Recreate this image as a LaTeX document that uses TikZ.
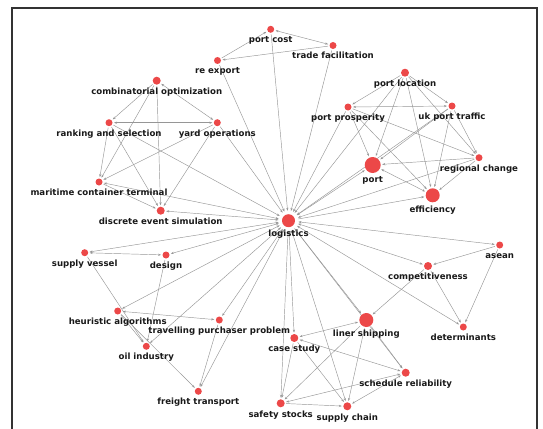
\documentclass[tikz,border=0pt]{standalone}
\usepackage{fontspec}
\setmainfont{DejaVu Sans}
\usetikzlibrary{arrows.meta, backgrounds}
\definecolor{dotred}{RGB}{236,72,72}
\definecolor{linkgray}{RGB}{150,150,150}
\definecolor{labelink}{RGB}{25,25,25}

\begin{document}
\begin{tikzpicture}[
		x=1pt, y=-1pt,
		every node/.style={circle, fill=dotred, inner sep=0pt, outer sep=1.5pt, minimum size=7pt},
		every label/.append style={rectangle, fill=none, text=labelink, minimum size=0pt,
			inner sep=0pt, outer sep=0pt, text height=6.5pt, text depth=2pt,
			font=\fontsize{8.6}{10}\selectfont\bfseries},
		label distance=1.8pt,
		midsize/.style={minimum size=8pt},
		gtip/.tip={Stealth[length=3pt, width=2.2pt]},
		every edge/.style={draw=linkgray, line width=0.45pt},
		one/.style={-gtip},
		both/.style={gtip-gtip}
	]
  \useasboundingbox (0,0) rectangle (543,428);
  \draw[line width=1.4pt, black!80] (12,440) |- (537,8) -- (537,440);

  \node (port_cost) [label=below:port cost] at (270.7,29.3) {};
  \node (trade_fac) [label=below:trade facilitation] at (333,45.5) {};
  \node (re_export) [label=below:re export] at (217.5,60.5) {};
  \node (comb_opt) [midsize, label=below:combinatorial optimization] at (156.7,80.7) {};
  \node (port_loc) [midsize, label=below:port location] at (405,72.7) {};
  \node (port_pros) [label=below:port prosperity] at (348,107) {};
  \node (uk_port) [label=below:uk port traffic] at (452,106) {};
  \node (ranking) [label=below:ranking and selection] at (109,122.7) {};
  \node (yard_ops) [label=below:yard operations] at (217.3,122.7) {};
  \node (port) [minimum size=16pt, label=below:port] at (372.7,165) {};
  \node (reg_change) [label=below:regional change] at (479,157.7) {};
  \node (maritime) [label=below:maritime container terminal] at (99,182) {};
  \node (efficiency) [minimum size=14pt, label=below:efficiency] at (432.7,195.3) {};
  \node (discrete) [midsize, label=below:discrete event simulation] at (160.7,210.7) {};
  \node (logistics) [minimum size=13pt, outer sep=3.5pt, label={[yshift=2.5pt]below:logistics}] at (288.5,220.7) {};
  \node (asean) [label=below:asean] at (499.7,245) {};
  \node (supply_vessel) [label=below:supply vessel] at (84.7,252.7) {};
  \node (design) [label=below:design] at (166,255) {};
  \node (competitive) [midsize, label=below:competitiveness] at (428,266) {};
  \node (heuristic) [label=below:heuristic algorithms] at (117.7,311) {};
  \node (travelling) [label=below:travelling purchaser problem] at (219.3,320) {};
  \node (liner) [minimum size=14pt, label=below:liner shipping] at (366.3,320) {};
  \node (determinants) [label=below:determinants] at (463.3,327) {};
  \node (case_study) [midsize, label=below:case study] at (294.3,338) {};
  \node (oil_ind) [label=below:oil industry] at (146.3,346.3) {};
  \node (sched_rel) [midsize, label=below:schedule reliability] at (405.7,372.7) {};
  \node (freight) [label=below:freight transport] at (198.3,391.3) {};
  \node (safety) [midsize, label=below:safety stocks] at (280.7,403.3) {};
  \node (supply_chain) [midsize, label=below:supply chain] at (347.3,406.3) {};

  \begin{scope}[on background layer]
    % top group
    \draw[one] (re_export) edge (port_cost) (trade_fac) edge (re_export);
    \draw[both] (port_cost) edge (trade_fac);
    \draw[one] (port_cost) edge (logistics) (trade_fac) edge (logistics) (re_export) edge (logistics);
    % left group
    \draw[one] (comb_opt) edge (ranking) edge (maritime) edge (discrete);
    \draw[both] (comb_opt) edge (yard_ops) (ranking) edge (yard_ops);
    \draw[one] (ranking) edge (maritime) edge (discrete) edge (logistics);
    \draw[one] (yard_ops) edge (maritime) edge (discrete) edge (logistics);
    \draw[one] (maritime) edge (discrete);
    \draw[both] (logistics) edge (maritime) edge (discrete);
    % right group
    \draw[one] (port_loc) edge (port_pros) edge (uk_port) edge (port) edge (efficiency) edge (reg_change) edge (logistics);
    \draw[both] (port_pros) edge (uk_port);
    \draw[one] (port_pros) edge (port) edge (efficiency) edge (reg_change) edge (logistics);
    \draw[one] (uk_port) edge (port) edge (efficiency) edge (reg_change) edge (logistics);
    \draw[one] (reg_change) edge (port) edge (efficiency) edge (logistics);
    \draw[both] (port) edge (logistics) edge (efficiency);
    \draw[one] (logistics) edge (efficiency);
    % lower right group
    \draw[both] (logistics) edge (asean) edge (competitive) edge (determinants) edge (liner);
    \draw[one] (asean) edge (competitive) edge (determinants);
    \draw[one] (competitive) edge (determinants) edge (liner);
    \draw[one] (logistics) edge (sched_rel) (liner) edge (sched_rel) edge (safety) edge (supply_chain);
    \draw[both] (liner) edge (case_study) (case_study) edge (sched_rel);
    \draw[one] (case_study) edge (safety) edge (supply_chain) (safety) edge (supply_chain);
    \draw[both] (sched_rel) edge (safety) edge (supply_chain);
    \draw[both] (logistics) edge (case_study) edge (safety) edge (supply_chain);
    % lower left group
    \draw[both] (logistics) edge (supply_vessel) edge (design) (supply_vessel) edge (design);
    \draw[one] (supply_vessel) edge (oil_ind) (design) edge (oil_ind);
    \draw[both] (logistics) edge (heuristic) edge (travelling) edge (oil_ind) edge (freight);
    \draw[both] (heuristic) edge (travelling);
    \draw[one] (heuristic) edge (oil_ind) edge (freight) (travelling) edge (freight);
  \end{scope}
\end{tikzpicture}
\end{document}
